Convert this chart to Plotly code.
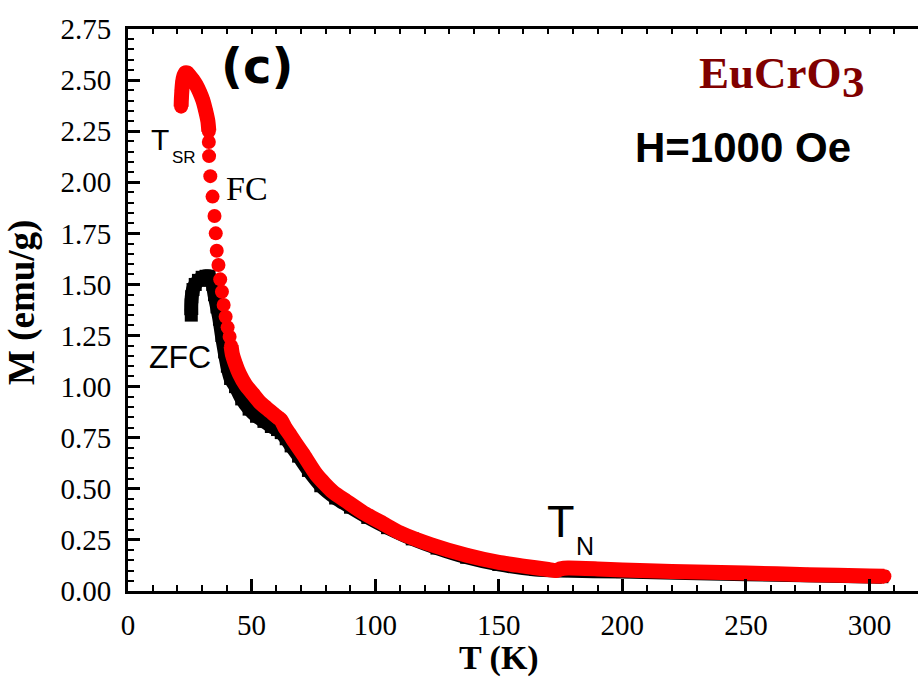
import numpy as np
import plotly.graph_objects as go

# ---------------- data ----------------
FC_T = [21.5, 21.6, 21.8, 22.1, 22.6, 23.2, 23.9, 25.0, 26.3, 27.6, 29.0, 30.3, 31.4, 32.3, 32.7,
        32.7, 32.8, 33.3, 34.2, 35.0, 35.5, 35.9, 36.6, 37.3, 38.0, 38.7, 39.5, 40.3, 41.1,
        41.7, 42.2, 43.5, 45.1, 47.5, 50.5, 53.2, 56.0, 58.5, 60.5, 62.0, 63.5, 65.5, 67.4,
        70.8, 76.2, 82.9, 88.3, 95, 103.2, 110, 123, 137, 150, 160, 170, 173, 175, 178, 190,
        200, 220, 250, 275, 300, 306]
FC_M = [2.37, 2.41, 2.45, 2.49, 2.52, 2.535, 2.535, 2.52, 2.50, 2.475, 2.44, 2.40, 2.35, 2.30, 2.25,
        2.197, 2.128, 2.03, 1.93, 1.835, 1.75, 1.665, 1.595, 1.525, 1.464, 1.40, 1.342, 1.29, 1.244,
        1.20, 1.16, 1.11, 1.062, 1.01, 0.965, 0.925, 0.895, 0.87, 0.85, 0.835, 0.80, 0.765, 0.73,
        0.67, 0.57, 0.485, 0.44, 0.385, 0.33, 0.285, 0.225, 0.175, 0.14, 0.122, 0.105, 0.100,
        0.108, 0.112, 0.108, 0.103, 0.096, 0.088, 0.080, 0.073, 0.072]

ZFC_T = [25.6, 25.6, 25.8, 26.3, 27.2, 28.5, 30.0, 31.6, 32.8, 33.6, 34.3, 35.0, 36.0, 37.0,
         38.0, 39.1, 40.2, 41.5, 43.5, 46, 49, 52, 55, 58, 60.5, 62, 64, 66, 69, 73, 78, 84,
         90, 97, 105, 115, 125, 137, 150, 165, 175, 200, 250, 305]
ZFC_M = [1.35, 1.40, 1.44, 1.475, 1.50, 1.52, 1.535, 1.54, 1.54, 1.52, 1.50, 1.45, 1.39, 1.33,
         1.25, 1.17, 1.10, 1.04, 1.00, 0.94, 0.89, 0.855, 0.83, 0.805, 0.79, 0.775, 0.745, 0.71,
         0.66, 0.59, 0.515, 0.455, 0.41, 0.36, 0.31, 0.255, 0.21, 0.165, 0.13, 0.105, 0.10,
         0.095, 0.082, 0.07]

X_TICKS = [0, 50, 100, 150, 200, 250, 300]
Y_TICKS = [0.00, 0.25, 0.50, 0.75, 1.00, 1.25, 1.50, 1.75, 2.00, 2.25, 2.50, 2.75]

# ---------------- style ----------------
X_RANGE = [0, 319.6]
Y_RANGE = [0, 2.75]
HOOK_M = 2.22      # FC points above this form a continuous band
BAND_T = 41.5      # FC points above this temperature form a continuous band
RED = "#ff0000"
SERIF = "Liberation Serif"
SANS = "Liberation Sans"

fc_t = np.array(FC_T)
fc_m = np.array(FC_M)
band_mask = (fc_m >= HOOK_M) | (fc_t >= BAND_T)
fc_band = [m if ok else None for m, ok in zip(FC_M, band_mask)]

fig = go.Figure()
# ZFC (black) behind
fig.add_trace(go.Scatter(x=ZFC_T, y=ZFC_M, mode="lines+markers",
                         line=dict(color="black", width=14, shape="spline", smoothing=0.6),
                         marker=dict(symbol="square", size=13, color="black"),
                         showlegend=False, hoverinfo="skip"))
# FC band
fig.add_trace(go.Scatter(x=FC_T, y=fc_band, mode="lines", connectgaps=False,
                         line=dict(color=RED, width=15, shape="spline", smoothing=0.6),
                         showlegend=False, hoverinfo="skip"))
# FC dots
fig.add_trace(go.Scatter(x=FC_T, y=FC_M, mode="markers",
                         marker=dict(symbol="circle", size=14, color=RED, line=dict(width=0)),
                         showlegend=False, hoverinfo="skip"))

fig.update_layout(
    width=918, height=679,
    margin=dict(l=128, r=0, t=29, b=88),
    paper_bgcolor="white", plot_bgcolor="white",
    xaxis=dict(range=X_RANGE, tickvals=X_TICKS, ticktext=[str(v) for v in X_TICKS],
               ticks="inside", ticklen=12, tickwidth=2.5, tickcolor="black",
               minor=dict(dtick=10, ticks="inside", ticklen=6, tickwidth=2, tickcolor="black"),
               showline=True, linewidth=3, linecolor="black",
               showgrid=False, zeroline=False, ticklabelstandoff=6,
               tickfont=dict(family=SERIF, size=29, color="black")),
    xaxis2=dict(range=X_RANGE, overlaying="x", side="top", matches="x",
                tickvals=list(range(10, 320, 10)), showticklabels=False,
                ticks="inside", ticklen=5, tickwidth=2, tickcolor="black",
                showline=True, linewidth=3, linecolor="black",
                showgrid=False, zeroline=False),
    yaxis=dict(range=Y_RANGE, tickvals=Y_TICKS, ticktext=[f"{v:.2f}" for v in Y_TICKS],
               ticks="inside", ticklen=12, tickwidth=2.5, tickcolor="black",
               minor=dict(dtick=0.05, ticks="inside", ticklen=6, tickwidth=2, tickcolor="black"),
               showline=True, linewidth=3, linecolor="black",
               showgrid=False, zeroline=False, ticklabelstandoff=8,
               tickfont=dict(family=SERIF, size=29, color="black")),
)
# invisible helper so the top axis is drawn
fig.add_trace(go.Scatter(x=[], y=[], xaxis="x2", showlegend=False))

def ann(text, x, y, size, family, color="black", xanchor="left", yanchor="middle",
        bold=False, angle=0, xref="x", yref="y"):
    t = f"<b>{text}</b>" if bold else text
    fig.add_annotation(text=t, x=x, y=y, xref=xref, yref=yref, showarrow=False,
                       xanchor=xanchor, yanchor=yanchor, textangle=angle,
                       font=dict(family=family, size=size, color=color))

ann("(c)", 52.0, 2.57, 48, "DejaVu Sans", xanchor="center", bold=True)
ann("EuCrO", 230.2, 2.535, 45, SERIF, color="#800000", bold=True)
ann("3", 288.1, 2.49, 45, SERIF, color="#800000", bold=True)
ann("H=1000 Oe", 204.5, 2.17, 42, SANS, bold=True)
ann("T", 8.5, 2.21, 30, SANS)
ann("SR", 17.0, 2.12, 17, SANS)
ann("FC", 38.9, 1.97, 34, SERIF)
ann("ZFC", 7.6, 1.147, 32, SANS)
ann("T", 168.6, 0.34, 45, SANS)
ann("N", 180.6, 0.22, 25, SANS)
# axis titles
ann("T (K)", 499, 658, 34, SERIF, xanchor="center", bold=True, xref="paper", yref="paper")
ann("M (emu/g)", 22, 303, 37, SERIF, xanchor="center", bold=True, angle=-90,
    xref="paper", yref="paper")

# convert the two paper-positioned titles from pixels to paper fractions
W, H = 918, 679
L, R, T, B = 128, 0, 29, 88
for a in fig.layout.annotations[-2:]:
    a.x = (a.x - L) / (W - L - R)
    a.y = (H - B - a.y) / (H - T - B)

fig.write_html("out.html")
